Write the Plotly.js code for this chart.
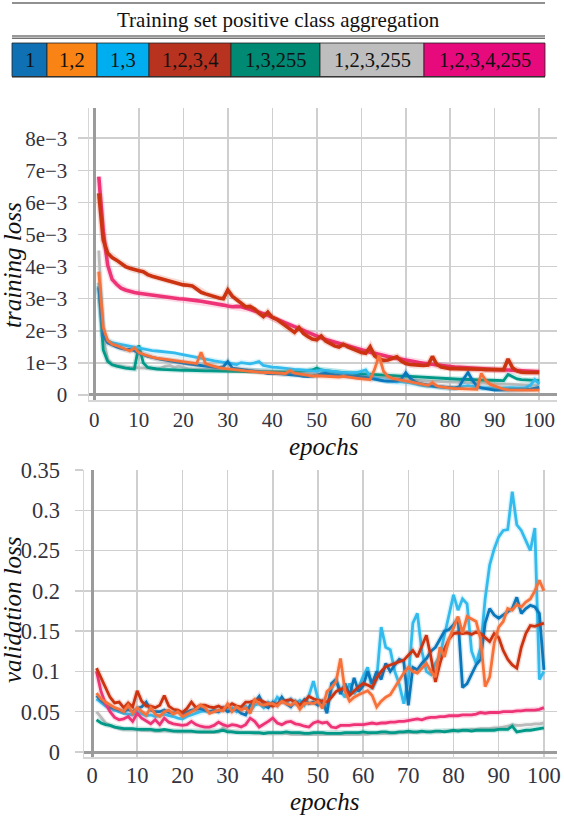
<!DOCTYPE html>
<html>
<head>
<meta charset="utf-8">
<script src="https://cdn.plot.ly/plotly-3.0.1.min.js"></script>
<style>
html,body{margin:0;padding:0;background:#fff;}
#chart{width:564px;height:817px;}
#chart svg text{font-family:"Liberation Serif","Times New Roman",serif !important;}
</style>
</head>
<body>
<div id="chart"></div>
<script>
// ---------------- DATA ----------------
const seriesNames = ['1','1,2','1,3','1,2,3,4','1,3,255','1,2,3,255','1,2,3,4,255'];
const legendTitle = 'Training set positive class aggregation';

const epochs = [1,2,3,4,5,6,7,8,9,10,11,12,13,14,15,16,17,18,19,20,21,22,23,24,25,26,27,28,29,30,31,32,33,34,35,36,37,38,39,40,41,42,43,44,45,46,47,48,49,50,51,52,53,54,55,56,57,58,59,60,61,62,63,64,65,66,67,68,69,70,71,72,73,74,75,76,77,78,79,80,81,82,83,84,85,86,87,88,89,90,91,92,93,94,95,96,97,98,99,100];

// training loss, in units of 1e-3
const train_1 = [3.35,1.85,1.62,1.55,1.5,1.45,1.42,1.42,1.38,1.31,1.25,1.2,1.17,1.13,1.11,1.09,1.06,1.04,1.01,0.99,0.97,0.95,0.93,0.91,0.89,0.88,0.86,0.85,0.88,1.04,0.84,0.82,0.81,0.79,0.77,0.76,0.74,0.7,0.67,0.68,0.67,0.66,0.65,0.64,0.62,0.6,0.58,0.57,0.59,0.61,0.66,0.67,0.64,0.62,0.6,0.59,0.6,0.58,0.59,0.58,0.55,0.52,0.49,0.46,0.44,0.43,0.43,0.44,0.5,0.7,0.52,0.42,0.36,0.33,0.3,0.28,0.26,0.25,0.24,0.22,0.22,0.25,0.5,0.7,0.45,0.28,0.22,0.2,0.17,0.15,0.15,0.15,0.15,0.15,0.15,0.16,0.17,0.18,0.2,0.24];
const train_12 = [3.84,2.1,1.7,1.58,1.54,1.48,1.42,1.37,1.46,1.32,1.27,1.22,1.18,1.15,1.13,1.11,1.1,1.08,1.05,1.03,1.0,0.99,0.98,1.33,0.98,0.93,0.88,0.85,0.83,0.81,0.79,0.78,0.76,0.75,0.74,0.72,0.71,0.7,0.7,0.69,0.68,0.68,0.67,0.76,0.68,0.66,0.64,0.61,0.59,0.6,0.59,0.58,0.56,0.55,0.56,0.58,0.57,0.54,0.52,0.51,0.5,0.48,0.8,1.23,0.74,0.58,0.52,0.49,0.46,0.44,0.42,0.38,0.34,0.32,0.3,0.38,0.28,0.25,0.23,0.21,0.2,0.2,0.19,0.19,0.18,0.18,0.67,0.45,0.33,0.28,0.21,0.18,0.16,0.15,0.15,0.15,0.15,0.15,0.15,0.15];
const train_13 = [3.5,1.85,1.7,1.63,1.6,1.57,1.55,1.52,1.49,1.46,1.43,1.4,1.38,1.37,1.36,1.35,1.33,1.31,1.28,1.25,1.22,1.19,1.16,1.13,1.11,1.09,1.06,1.04,1.02,1.0,0.98,0.95,1.01,0.99,0.97,1.0,1.04,0.92,0.89,0.87,0.86,0.84,0.82,0.8,0.8,0.79,0.77,0.76,0.75,0.74,0.78,0.76,0.74,0.73,0.71,0.7,0.69,0.69,0.7,0.74,0.78,0.58,0.52,0.48,0.45,0.43,0.42,0.41,0.41,0.4,0.38,0.35,0.31,0.29,0.28,0.27,0.26,0.25,0.23,0.21,0.21,0.22,0.27,0.29,0.26,0.24,0.22,0.22,0.21,0.21,0.21,0.22,0.23,0.23,0.22,0.22,0.23,0.3,0.48,0.34];
const train_1234 = [6.28,4.83,4.42,4.28,4.2,4.1,4.0,3.95,3.9,3.87,3.84,3.75,3.7,3.66,3.63,3.58,3.55,3.52,3.47,3.43,3.42,3.4,3.3,3.2,3.15,3.1,3.05,3.02,3.0,3.27,3.08,2.98,2.85,2.75,2.76,2.68,2.55,2.44,2.58,2.42,2.36,2.25,2.14,2.05,1.95,2.1,1.92,1.82,1.74,1.72,1.84,1.68,1.6,1.53,1.49,1.58,1.5,1.45,1.38,1.32,1.3,1.5,1.22,1.12,1.08,1.09,1.15,1.19,1.06,0.98,0.95,0.93,0.93,0.92,0.93,1.2,0.95,0.87,0.84,0.82,0.82,0.82,0.81,0.81,0.8,0.8,0.8,0.79,0.79,0.78,0.78,0.79,1.12,0.85,0.75,0.71,0.7,0.7,0.7,0.7];
const train_13255 = [3.4,1.4,1.05,0.94,0.9,0.86,0.84,0.82,0.81,1.55,1.0,0.86,0.83,0.81,0.8,0.79,0.79,0.78,0.77,0.77,0.77,0.76,0.76,0.76,0.75,0.75,0.75,0.74,0.74,0.74,0.73,0.73,0.73,0.73,0.72,0.72,0.72,0.72,0.71,0.71,0.71,0.71,0.71,0.72,0.73,0.74,0.75,0.76,0.78,0.84,0.78,0.76,0.74,0.72,0.71,0.7,0.69,0.68,0.67,0.66,0.65,0.64,0.63,0.62,0.62,0.61,0.6,0.6,0.59,0.59,0.58,0.57,0.56,0.55,0.54,0.54,0.53,0.52,0.51,0.5,0.5,0.49,0.49,0.48,0.48,0.47,0.47,0.46,0.46,0.45,0.45,0.45,0.64,0.58,0.5,0.48,0.47,0.46,0.45,0.45];
const train_123255 = [4.5,1.8,1.1,0.97,0.92,0.89,0.87,0.86,0.85,0.85,0.84,0.83,0.82,0.82,0.84,0.9,0.92,0.86,0.9,0.86,0.82,0.81,0.81,0.8,0.8,0.79,0.79,0.78,0.78,0.77,0.77,0.77,0.76,0.76,0.75,0.75,0.74,0.73,0.73,0.72,0.71,0.71,0.7,0.7,0.69,0.69,0.68,0.68,0.67,0.67,0.66,0.66,0.65,0.65,0.64,0.63,0.63,0.62,0.62,0.61,0.6,0.59,0.58,0.57,0.55,0.54,0.53,0.51,0.5,0.48,0.47,0.46,0.45,0.44,0.44,0.43,0.42,0.41,0.41,0.4,0.4,0.39,0.39,0.38,0.38,0.37,0.37,0.36,0.36,0.35,0.35,0.34,0.34,0.33,0.33,0.32,0.32,0.31,0.31,0.3];
const train_1234255 = [6.8,5.1,4.05,3.6,3.45,3.33,3.27,3.22,3.19,3.17,3.15,3.12,3.1,3.08,3.07,3.05,3.04,3.02,3.0,2.99,2.98,2.97,2.94,2.92,2.9,2.87,2.85,2.82,2.8,2.77,2.75,2.76,2.75,2.71,2.67,2.63,2.58,2.53,2.48,2.42,2.36,2.3,2.24,2.18,2.12,2.06,2.0,1.94,1.88,1.83,1.78,1.73,1.69,1.64,1.6,1.55,1.51,1.47,1.43,1.4,1.37,1.33,1.3,1.26,1.23,1.2,1.17,1.14,1.11,1.08,1.06,1.03,1.01,0.99,0.97,0.95,0.93,0.91,0.9,0.88,0.87,0.86,0.85,0.84,0.83,0.82,0.81,0.8,0.8,0.79,0.79,0.78,0.78,0.77,0.76,0.75,0.74,0.73,0.73,0.72];

// validation loss
const val_1 = [0.07,0.064,0.06,0.056,0.054,0.052,0.05,0.053,0.05,0.054,0.056,0.062,0.052,0.05,0.05,0.052,0.049,0.048,0.05,0.047,0.05,0.052,0.053,0.054,0.052,0.05,0.051,0.05,0.055,0.05,0.052,0.053,0.048,0.046,0.058,0.062,0.069,0.058,0.055,0.062,0.058,0.068,0.06,0.056,0.063,0.058,0.065,0.06,0.062,0.058,0.063,0.048,0.085,0.09,0.072,0.085,0.07,0.092,0.075,0.082,0.1,0.085,0.1,0.09,0.11,0.1,0.108,0.115,0.112,0.058,0.105,0.102,0.11,0.116,0.125,0.13,0.14,0.15,0.152,0.158,0.166,0.08,0.085,0.097,0.108,0.115,0.16,0.178,0.17,0.166,0.17,0.175,0.178,0.192,0.172,0.178,0.182,0.18,0.172,0.102];
const val_12 = [0.073,0.066,0.062,0.058,0.055,0.053,0.05,0.058,0.048,0.055,0.05,0.046,0.055,0.047,0.044,0.05,0.052,0.047,0.05,0.044,0.047,0.05,0.053,0.058,0.055,0.048,0.05,0.052,0.051,0.06,0.05,0.056,0.052,0.055,0.048,0.065,0.06,0.058,0.06,0.06,0.057,0.063,0.06,0.058,0.062,0.053,0.06,0.061,0.06,0.063,0.054,0.075,0.08,0.087,0.116,0.075,0.063,0.068,0.071,0.074,0.076,0.07,0.056,0.063,0.068,0.071,0.08,0.088,0.098,0.105,0.1,0.098,0.104,0.11,0.1,0.093,0.13,0.118,0.14,0.155,0.168,0.148,0.168,0.165,0.162,0.14,0.081,0.093,0.135,0.155,0.162,0.178,0.176,0.183,0.18,0.186,0.19,0.2,0.213,0.2];
const val_13 = [0.066,0.061,0.057,0.054,0.052,0.05,0.048,0.047,0.046,0.05,0.047,0.045,0.046,0.044,0.045,0.047,0.045,0.044,0.042,0.041,0.044,0.046,0.048,0.05,0.051,0.05,0.052,0.05,0.053,0.052,0.055,0.05,0.054,0.057,0.05,0.058,0.06,0.055,0.062,0.058,0.068,0.063,0.061,0.066,0.06,0.064,0.058,0.07,0.088,0.066,0.06,0.057,0.078,0.09,0.075,0.068,0.085,0.072,0.08,0.094,0.105,0.078,0.09,0.155,0.13,0.127,0.1,0.084,0.06,0.09,0.16,0.172,0.125,0.1,0.096,0.11,0.12,0.145,0.17,0.195,0.176,0.19,0.184,0.125,0.11,0.13,0.19,0.232,0.252,0.267,0.275,0.276,0.323,0.282,0.275,0.263,0.25,0.278,0.09,0.1];
const val_1234 = [0.104,0.092,0.082,0.068,0.061,0.062,0.055,0.061,0.056,0.076,0.063,0.057,0.057,0.055,0.058,0.07,0.057,0.053,0.052,0.049,0.054,0.062,0.055,0.058,0.058,0.056,0.055,0.057,0.054,0.056,0.06,0.057,0.056,0.062,0.062,0.064,0.065,0.062,0.06,0.057,0.06,0.062,0.064,0.065,0.061,0.058,0.063,0.069,0.066,0.064,0.063,0.062,0.068,0.075,0.078,0.079,0.07,0.076,0.081,0.085,0.083,0.08,0.092,0.1,0.106,0.108,0.11,0.112,0.114,0.12,0.126,0.118,0.132,0.145,0.118,0.087,0.11,0.128,0.14,0.147,0.148,0.147,0.148,0.146,0.149,0.147,0.142,0.137,0.147,0.142,0.126,0.115,0.108,0.104,0.13,0.147,0.157,0.156,0.158,0.16];
const val_13255 = [0.04,0.036,0.034,0.033,0.031,0.03,0.029,0.029,0.029,0.028,0.028,0.028,0.028,0.027,0.027,0.028,0.027,0.026,0.026,0.026,0.026,0.026,0.025,0.025,0.025,0.025,0.025,0.026,0.027,0.025,0.025,0.024,0.024,0.024,0.024,0.024,0.024,0.023,0.024,0.024,0.024,0.024,0.025,0.024,0.024,0.024,0.023,0.023,0.024,0.024,0.024,0.023,0.023,0.023,0.023,0.024,0.024,0.024,0.024,0.025,0.024,0.024,0.024,0.025,0.025,0.024,0.024,0.025,0.025,0.026,0.025,0.025,0.026,0.025,0.025,0.026,0.026,0.025,0.026,0.027,0.026,0.027,0.027,0.026,0.027,0.027,0.027,0.027,0.027,0.028,0.028,0.028,0.032,0.025,0.026,0.027,0.027,0.028,0.029,0.03];
const val_123255 = [0.05,0.043,0.036,0.033,0.031,0.029,0.028,0.028,0.028,0.028,0.027,0.027,0.027,0.026,0.026,0.027,0.026,0.026,0.025,0.025,0.025,0.025,0.025,0.024,0.024,0.024,0.024,0.025,0.03,0.027,0.025,0.025,0.024,0.024,0.024,0.023,0.023,0.023,0.023,0.023,0.023,0.023,0.023,0.022,0.022,0.022,0.022,0.022,0.022,0.022,0.022,0.022,0.022,0.022,0.022,0.022,0.022,0.022,0.022,0.022,0.022,0.023,0.023,0.023,0.023,0.023,0.023,0.024,0.024,0.024,0.024,0.024,0.025,0.025,0.025,0.025,0.025,0.026,0.026,0.026,0.027,0.027,0.027,0.028,0.028,0.029,0.029,0.029,0.03,0.03,0.031,0.032,0.034,0.033,0.033,0.034,0.034,0.035,0.035,0.036];
const val_1234255 = [0.1,0.075,0.06,0.05,0.043,0.04,0.041,0.044,0.038,0.048,0.042,0.039,0.035,0.04,0.034,0.042,0.037,0.035,0.034,0.033,0.034,0.038,0.034,0.032,0.031,0.031,0.033,0.037,0.034,0.032,0.034,0.033,0.031,0.034,0.042,0.038,0.031,0.034,0.038,0.042,0.036,0.034,0.037,0.038,0.035,0.034,0.032,0.031,0.036,0.038,0.036,0.037,0.031,0.03,0.033,0.033,0.033,0.034,0.034,0.034,0.035,0.036,0.035,0.036,0.036,0.037,0.037,0.038,0.038,0.039,0.04,0.041,0.04,0.042,0.043,0.043,0.044,0.044,0.045,0.045,0.045,0.046,0.046,0.046,0.047,0.049,0.048,0.049,0.049,0.049,0.05,0.05,0.05,0.051,0.051,0.052,0.052,0.052,0.053,0.055];

const trainTickVals = [0,1,2,3,4,5,6,7,8];
const trainTickText = ['0','1e\u22123','2e\u22123','3e\u22123','4e\u22123','5e\u22123','6e\u22123','7e\u22123','8e\u22123'];
const valTickVals = [0,0.05,0.1,0.15,0.2,0.25,0.3,0.35];
const valTickText = ['0','0.05','0.1','0.15','0.2','0.25','0.3','0.35'];
const epochTicks = [0,10,20,30,40,50,60,70,80,90,100];

// ---------------- STYLE ----------------
const W = 564, H = 817;
const lineColors = ['#0a77bb','#f7723a','#33bbee','#cc3311','#009988','#bbbbbb','#ee3377'];
const boxColors  = ['#1070b4','#f98314','#00aeef','#b83220','#008973','#bebebe','#e60a7d'];
const serif = 'Liberation Serif';
const px = x => x / W;
const py = y => 1 - y / H;

const trainSeries = [train_1, train_12, train_13, train_1234, train_13255, train_123255, train_1234255];
const valSeries = [val_1, val_12, val_13, val_1234, val_13255, val_123255, val_1234255];
const drawOrder = [5, 4, 2, 0, 6, 3, 1];

const traces = [];
drawOrder.forEach(i => {
  const wTop = (i === 3 || i === 6) ? 3.6 : 2.8;
  traces.push({x: epochs, y: trainSeries[i], type: 'scatter', mode: 'lines', name: seriesNames[i],
    xaxis: 'x', yaxis: 'y', line: {color: lineColors[i], width: wTop + 3}, opacity: 0.18, hoverinfo: 'skip', showlegend: false});
  traces.push({x: epochs, y: trainSeries[i], type: 'scatter', mode: 'lines', name: seriesNames[i],
    xaxis: 'x', yaxis: 'y', line: {color: lineColors[i], width: wTop}, showlegend: false});
});
drawOrder.forEach(i => {
  traces.push({x: epochs, y: valSeries[i], type: 'scatter', mode: 'lines', name: seriesNames[i],
    xaxis: 'x2', yaxis: 'y2', line: {color: lineColors[i], width: 5.5}, opacity: 0.18, hoverinfo: 'skip', showlegend: false});
  traces.push({x: epochs, y: valSeries[i], type: 'scatter', mode: 'lines', name: seriesNames[i],
    xaxis: 'x2', yaxis: 'y2', line: {color: lineColors[i], width: 2.8}, showlegend: false});
});

const tickFontTop = {family: serif, size: 21, color: '#333340'};
const tickFontBot = {family: serif, size: 22.5, color: '#333340'};
const gridC = '#cfcfcf';
const commonAxis = {
  showgrid: true, gridcolor: gridC, gridwidth: 1.5,
  zeroline: true, zerolinecolor: '#9b9b9b', zerolinewidth: 3,
  showline: true, linecolor: '#d6d6d6', linewidth: 1.5,
  automargin: false, fixedrange: true
};

const shapes = [];
const annotations = [];
// legend table
const legL = 12, legR = 545;
shapes.push({type: 'line', xref: 'paper', yref: 'paper', x0: px(legL), x1: px(legR), y0: py(3), y1: py(3), line: {color: '#222', width: 1}});
shapes.push({type: 'line', xref: 'paper', yref: 'paper', x0: px(legL), x1: px(legR), y0: py(36), y1: py(36), line: {color: '#333', width: 1}});
shapes.push({type: 'line', xref: 'paper', yref: 'paper', x0: px(legL), x1: px(legR), y0: py(38.2), y1: py(38.2), line: {color: '#333', width: 1}});
annotations.push({text: legendTitle, xref: 'paper', yref: 'paper', x: px(278), y: py(20), xanchor: 'center', yanchor: 'middle',
  showarrow: false, font: {family: serif, size: 21, color: '#111'}});
const boxEdges = [12, 47, 97, 149, 231, 320, 424, 545];
const boxTop = 43, boxBot = 76.5;
seriesNames.forEach((n, i) => {
  shapes.push({type: 'rect', xref: 'paper', yref: 'paper', x0: px(boxEdges[i]), x1: px(boxEdges[i+1]), y0: py(boxBot), y1: py(boxTop),
    fillcolor: boxColors[i], line: {color: '#222', width: 0.8}});
  annotations.push({text: n, xref: 'paper', yref: 'paper', x: px((boxEdges[i] + boxEdges[i+1]) / 2), y: py((boxTop + boxBot) / 2),
    xanchor: 'center', yanchor: 'middle', showarrow: false, font: {family: serif, size: 20.5, color: '#111'}});
});
shapes.push({type: 'line', xref: 'paper', yref: 'paper', x0: px(legL), x1: px(legR), y0: py(77), y1: py(77), line: {color: '#222', width: 1}});

// axis titles
const titleFont = {family: serif, size: 25, color: '#111', style: 'italic'};
annotations.push({text: 'training loss', xref: 'paper', yref: 'paper', x: px(12), y: py(265), textangle: -90,
  xanchor: 'center', yanchor: 'middle', showarrow: false, font: titleFont});
annotations.push({text: 'epochs', xref: 'paper', yref: 'paper', x: px(323), y: py(446), xanchor: 'center', yanchor: 'middle',
  showarrow: false, font: titleFont});
annotations.push({text: 'validation loss', xref: 'paper', yref: 'paper', x: px(12), y: py(610), textangle: -90,
  xanchor: 'center', yanchor: 'middle', showarrow: false, font: titleFont});
annotations.push({text: 'epochs', xref: 'paper', yref: 'paper', x: px(324), y: py(801), xanchor: 'center', yanchor: 'middle',
  showarrow: false, font: titleFont});

const layout = {
  width: W, height: H, autosize: false,
  margin: {l: 0, r: 0, t: 0, b: 0, pad: 0},
  paper_bgcolor: '#fff', plot_bgcolor: '#fff',
  showlegend: false,
  font: {family: serif},
  xaxis: Object.assign({}, commonAxis, {domain: [px(89), px(557)], range: [-1.2, 104], anchor: 'y',
    tickvals: epochTicks, ticks: '', ticklabelstandoff: 0, tickfont: tickFontTop}),
  yaxis: Object.assign({}, commonAxis, {domain: [py(400), py(108)], range: [-0.156, 8.94], anchor: 'x',
    tickvals: trainTickVals, ticktext: trainTickText, ticks: 'outside', ticklen: 10, tickcolor: gridC, tickwidth: 1.5,
    ticklabelstandoff: 6, tickfont: tickFontTop}),
  xaxis2: Object.assign({}, commonAxis, {domain: [px(84), px(557)], range: [-1.77, 102.9], anchor: 'y2',
    tickvals: epochTicks, ticks: '', ticklabelstandoff: -3, tickfont: tickFontBot}),
  yaxis2: Object.assign({}, commonAxis, {domain: [py(757), py(470)], range: [-0.0062, 0.35], anchor: 'x2',
    tickvals: valTickVals, ticktext: valTickText, ticks: 'outside', ticklen: 8, tickcolor: gridC, tickwidth: 1.5,
    ticklabelstandoff: 10, tickfont: tickFontBot}),
  shapes: shapes,
  annotations: annotations
};

Plotly.newPlot('chart', traces, layout, {staticPlot: true, displayModeBar: false});
</script>
</body>
</html>
